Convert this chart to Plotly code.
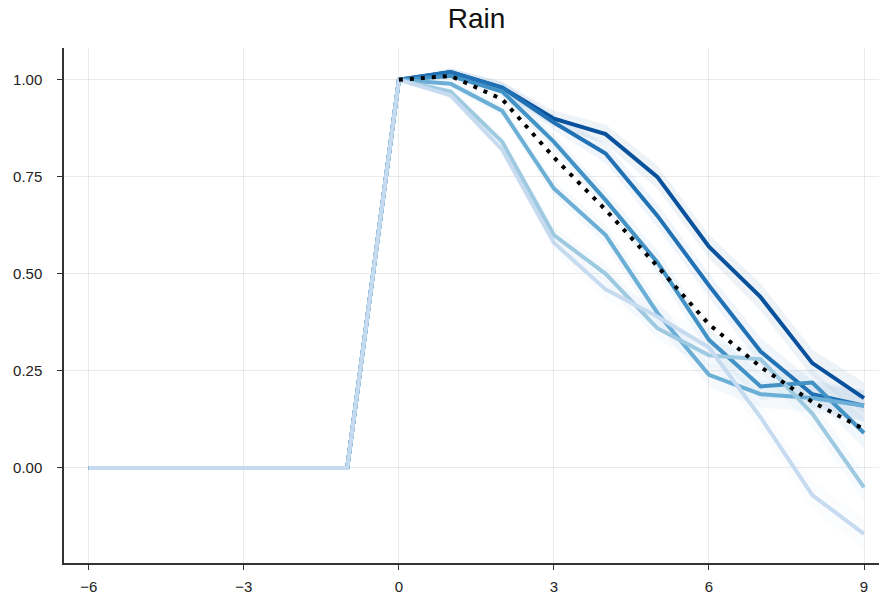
import plotly.graph_objects as go

# Event-time lags
lags = list(range(-6, 10))

# Impulse responses by group (lags -6 .. 9)
resp_1 = [0, 0, 0, 0, 0, 0, 1.00, 1.02, 0.98, 0.90, 0.86, 0.75, 0.57, 0.44, 0.27, 0.18]
resp_2 = [0, 0, 0, 0, 0, 0, 1.00, 1.02, 0.98, 0.89, 0.81, 0.65, 0.47, 0.30, 0.19, 0.16]
resp_3 = [0, 0, 0, 0, 0, 0, 1.00, 1.01, 0.97, 0.84, 0.69, 0.53, 0.33, 0.21, 0.22, 0.09]
resp_4 = [0, 0, 0, 0, 0, 0, 1.00, 0.99, 0.92, 0.72, 0.60, 0.40, 0.24, 0.19, 0.18, 0.16]
resp_5 = [0, 0, 0, 0, 0, 0, 1.00, 0.97, 0.84, 0.60, 0.50, 0.36, 0.29, 0.28, 0.14, -0.05]
resp_6 = [0, 0, 0, 0, 0, 0, 1.00, 0.96, 0.82, 0.58, 0.46, 0.39, 0.31, 0.13, -0.07, -0.17]

# Pooled response, shown from lag 0 onward
pooled_lags = list(range(0, 10))
pooled = [1.00, 1.01, 0.95, 0.80, 0.665, 0.52, 0.37, 0.26, 0.17, 0.10]

# Half-width of the uncertainty band at each lag
band = [0, 0, 0, 0, 0, 0, 0, 0.01, 0.015, 0.02, 0.025, 0.03, 0.03, 0.035, 0.035, 0.04]

groups = [resp_1, resp_2, resp_3, resp_4, resp_5, resp_6]
colors = ["#08519c", "#2171b5", "#4292c6", "#6baed6", "#9ecae1", "#c6dbef"]


def rgba(hex_color, alpha):
    h = hex_color.lstrip("#")
    r, g, b = int(h[0:2], 16), int(h[2:4], 16), int(h[4:6], 16)
    return f"rgba({r},{g},{b},{alpha})"


fig = go.Figure()

for vals, col in zip(groups, colors):
    upper = [v + w for v, w in zip(vals, band)]
    lower = [v - w for v, w in zip(vals, band)]
    fig.add_trace(go.Scatter(
        x=lags + lags[::-1], y=upper + lower[::-1],
        fill="toself", fillcolor=rgba(col, 0.07),
        line=dict(width=0), hoverinfo="skip", showlegend=False,
    ))

for vals, col in zip(groups, colors):
    fig.add_trace(go.Scatter(
        x=lags, y=vals, mode="lines",
        line=dict(color=col, width=4),
        showlegend=False,
    ))

fig.add_trace(go.Scatter(
    x=pooled_lags, y=pooled, mode="lines",
    line=dict(color="black", width=4, dash="4px,7px"),
    showlegend=False,
))

axis_common = dict(
    showgrid=True, gridcolor="rgba(0,0,0,0.08)", gridwidth=1,
    zeroline=False, showline=True, linecolor="#333333", linewidth=1.5,
    ticks="outside", ticklen=5, tickcolor="#333333", mirror=False,
    tickfont=dict(family="Liberation Sans, Arial, sans-serif", size=15, color="#222222"),
)

fig.update_layout(
    width=881, height=597,
    margin=dict(l=64, r=2, t=48, b=34),
    plot_bgcolor="white", paper_bgcolor="white",
    title=dict(text="Rain", x=0.541, xanchor="center", y=0.97, yanchor="middle",
               font=dict(family="Liberation Sans, Arial, sans-serif", size=28, color="#111111")),
    xaxis=dict(range=[-6.48, 9.29], tickvals=[-6, -3, 0, 3, 6, 9],
               ticktext=["\u22126", "\u22123", "0", "3", "6", "9"],
               ticklabelstandoff=4, **axis_common),
    yaxis=dict(range=[-0.245, 1.082], tickvals=[0, 0.25, 0.5, 0.75, 1.0],
               ticktext=["0.00", "0.25", "0.50", "0.75", "1.00"],
               ticklabelstandoff=12, **axis_common),
)

fig.write_html("out.html")
